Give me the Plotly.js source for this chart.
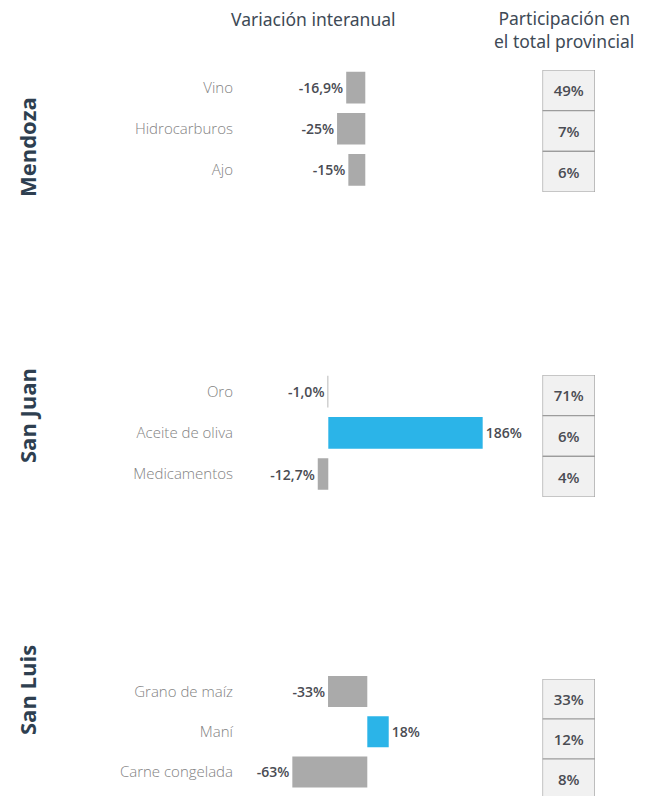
<!DOCTYPE html>
<html>
<head>
<meta charset="utf-8">
<script src="https://cdn.plot.ly/plotly-3.0.1.min.js"></script>
<style>
  html, body { margin: 0; padding: 0; background: #ffffff; }
  #chart { width: 660px; height: 796px; }
</style>
</head>
<body>
<div id="chart"></div>
<script>
// ---------------- DATA ----------------
const provinces = ["Mendoza", "San Juan", "San Luis"];

const mendozaProducts = ["Vino", "Hidrocarburos", "Ajo"];
const mendozaVariation = [-16.9, -25, -15];
const mendozaVarLabels = ["-16,9%", "-25%", "-15%"];
const mendozaShare = [49, 7, 6];

const sanJuanProducts = ["Oro", "Aceite de oliva", "Medicamentos"];
const sanJuanVariation = [-1.0, 186, -12.7];
const sanJuanVarLabels = ["-1,0%", "186%", "-12,7%"];
const sanJuanShare = [71, 6, 4];

const sanLuisProducts = ["Grano de maíz", "Maní", "Carne congelada"];
const sanLuisVariation = [-33, 18, -63];
const sanLuisVarLabels = ["-33%", "18%", "-63%"];
const sanLuisShare = [33, 12, 8];

const headerVariation = "Variación interanual";
const headerShare = "Participación en<br>el total provincial";

// ---------------- LAYOUT HELPERS ----------------
const W = 660, H = 796;
const fx = px => px / W;
const fy = py => 1 - py / H;

const NEG = "#aaaaaa", POS = "#2bb4e8";
const labelFont = "Open Sans, Noto Sans, sans-serif";

const panels = [
  {products: mendozaProducts, values: mendozaVariation, labels: mendozaVarLabels, share: mendozaShare,
   zero: 365.3, scale: 1.13, top: 66.9, bottom: 190.6, boxTop: 70, boxBottom: 192, nameY: 147},
  {products: sanJuanProducts, values: sanJuanVariation, labels: sanJuanVarLabels, share: sanJuanShare,
   zero: 328.3, scale: 0.83, top: 371, bottom: 494.6, boxTop: 375, boxBottom: 497, nameY: 416},
  {products: sanLuisProducts, values: sanLuisVariation, labels: sanLuisVarLabels, share: sanLuisShare,
   zero: 367.3, scale: 1.19, top: 671.4, bottom: 792.1, boxTop: 679, boxBottom: 799, nameY: 690}
];

const barX0 = 240, barX1 = 540;
const boxX0 = 542.5, boxX1 = 595;

const traces = [];
const layout = {
  width: W, height: H,
  margin: {l: 0, r: 0, t: 0, b: 0},
  paper_bgcolor: "#ffffff",
  plot_bgcolor: "rgba(0,0,0,0)",
  showlegend: false,
  annotations: [],
  font: {family: labelFont}
};

panels.forEach((p, i) => {
  const bx = "x" + (i + 1), by = "y" + (i + 1);
  const cx = "x" + (i + 4), cy = "y" + (i + 4);

  traces.push({
    type: "bar", orientation: "h",
    x: p.values, y: p.products,
    xaxis: bx, yaxis: by,
    marker: {color: p.values.map(v => v < 0 ? NEG : POS), line: {width: 0}},
    width: 0.77,
    text: p.labels, textposition: "outside", constraintext: "none", cliponaxis: false,
    textfont: {family: labelFont, size: 14, color: "#4a4c53", weight: 600},
    hoverinfo: "skip"
  });

  traces.push({
    type: "bar", orientation: "h",
    x: p.share.map(() => 1), y: p.products,
    xaxis: cx, yaxis: cy,
    width: 1,
    marker: {color: "#f1f1f1", line: {color: "#9c9c9c", width: 1.2}},
    text: p.share.map(v => v + "%"), textposition: "inside", insidetextanchor: "middle",
    constraintext: "none", cliponaxis: false,
    insidetextfont: {family: labelFont, size: 15, color: "#4a4c53", weight: 600},
    hoverinfo: "skip"
  });

  const n = i === 0 ? "" : String(i + 1);
  layout["xaxis" + n] = {
    domain: [fx(barX0), fx(barX1)], anchor: by,
    range: [(barX0 - p.zero) / p.scale, (barX1 - p.zero) / p.scale],
    showgrid: false, zeroline: false, showticklabels: false, ticks: "", showline: false, fixedrange: true
  };
  layout["yaxis" + n] = {
    domain: [fy(p.bottom), fy(p.top)], anchor: bx,
    type: "category", range: [2.5, -0.5],
    showgrid: false, zeroline: false, showline: false, ticks: "",
    ticklabelstandoff: 6,
    tickfont: {family: labelFont, size: 15, color: "#828282", weight: 300},
    fixedrange: true
  };

  const rowH = (p.boxBottom - p.boxTop) / 3;
  const visBottom = Math.min(p.boxBottom, H);
  const rows = (visBottom - p.boxTop) / rowH;
  layout["xaxis" + (i + 4)] = {
    domain: [fx(boxX0), fx(boxX1)], anchor: cy, range: [0, 1],
    visible: false, fixedrange: true
  };
  layout["yaxis" + (i + 4)] = {
    domain: [fy(visBottom), fy(p.boxTop)], anchor: cx,
    type: "category", range: [-0.5 + rows, -0.5],
    visible: false, fixedrange: true
  };

  layout.annotations.push({
    text: provinces[i], textangle: -90, showarrow: false,
    xref: "paper", yref: "paper", x: fx(27), y: fy(p.nameY),
    xanchor: "center", yanchor: "middle",
    font: {family: labelFont, size: 22, color: "#2e3f50", weight: 700}
  });
});

layout.annotations.push({
  text: headerVariation, showarrow: false,
  xref: "paper", yref: "paper", x: fx(313), y: fy(19),
  xanchor: "center", yanchor: "middle",
  font: {family: "Noto Sans, sans-serif", size: 17.5, color: "#3e4a56"}
});
layout.annotations.push({
  text: headerShare, showarrow: false,
  xref: "paper", yref: "paper", x: fx(564), y: fy(29),
  xanchor: "center", yanchor: "middle",
  font: {family: "Noto Sans, sans-serif", size: 17.5, color: "#3e4a56"}
});

Plotly.newPlot("chart", traces, layout, {displayModeBar: false, staticPlot: true});
</script>
</body>
</html>
